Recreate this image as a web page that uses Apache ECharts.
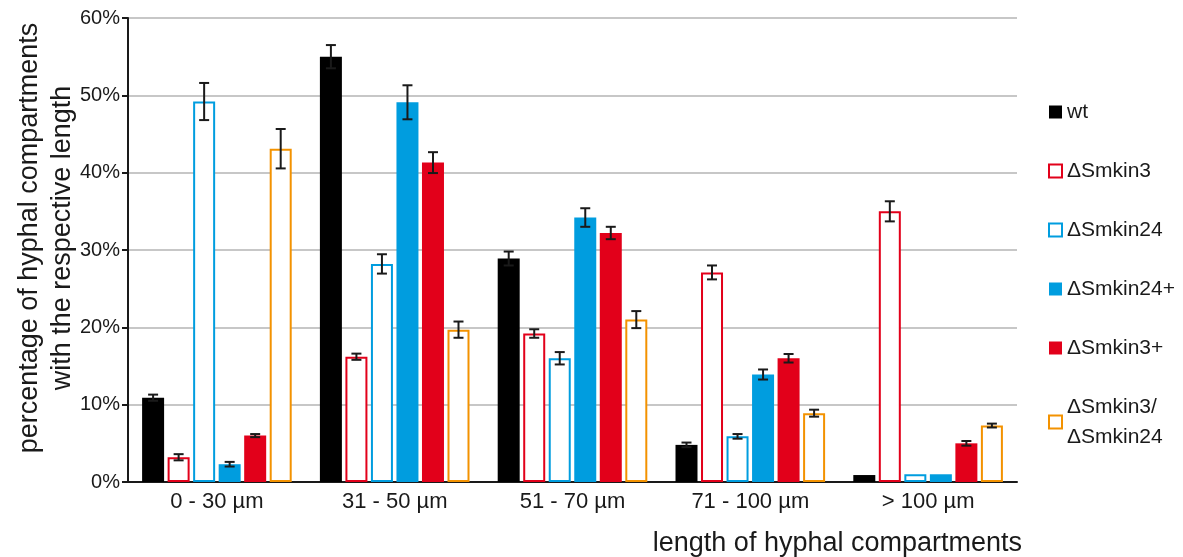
<!DOCTYPE html>
<html>
<head>
<meta charset="utf-8">
<script src="https://cdn.jsdelivr.net/npm/echarts@6/dist/echarts.min.js"></script>
<style>
  html, body { margin: 0; padding: 0; background: #fff; }
  #chart { width: 1183px; height: 557px; }
</style>
</head>
<body>
<div id="chart"></div>
<script>
var categories = ['0 - 30 µm', '31 - 50 µm', '51 - 70 µm', '71 - 100 µm', '> 100 µm'];
var names = ['wt', '\u0394Smkin3', '\u0394Smkin24', '\u0394Smkin24+', '\u0394Smkin3+', '\u0394Smkin3/\n\u0394Smkin24'];

// mean values (%)
var wt        = [10.9, 55.0, 28.9, 4.8, 0.9];
var smkin3    = [3.2, 16.2, 19.2, 27.1, 35.0];
var smkin24   = [49.2, 28.2, 16.0, 5.9, 1.0];
var smkin24p  = [2.3, 49.1, 34.2, 13.9, 1.0];
var smkin3p   = [6.0, 41.3, 32.2, 16.0, 5.0];
var combo     = [43.1, 19.7, 21.0, 8.9, 7.3];

// error bar half-widths (%)
var wtErr       = [0.4, 1.5, 0.9, 0.3, 0];
var smkin3Err   = [0.4, 0.4, 0.55, 0.9, 1.3];
var smkin24Err  = [2.4, 1.25, 0.8, 0.3, 0];
var smkin24pErr = [0.3, 2.2, 1.2, 0.65, 0];
var smkin3pErr  = [0.2, 1.35, 0.8, 0.55, 0.3];
var comboErr    = [2.55, 1.05, 1.1, 0.45, 0.25];

var values = [wt, smkin3, smkin24, smkin24p, smkin3p, combo];
var errors = [wtErr, smkin3Err, smkin24Err, smkin24pErr, smkin3pErr, comboErr];

var colors = ['#000000', '#e2001a', '#009ddf', '#009ddf', '#e2001a', '#f39200'];
var hollow = [false, true, true, false, false, true];

var barW = 22;
var gapPct = 16;
var step = barW * (1 + gapPct / 100);
var font = 'Liberation Sans, Arial, sans-serif';

var series = [];
for (var i = 0; i < values.length; i++) {
    series.push({
        name: names[i],
        type: 'bar',
        barWidth: barW,
        barGap: gapPct + '%',
        data: values[i],
        itemStyle: hollow[i]
            ? { color: '#ffffff', borderColor: colors[i], borderWidth: 2 }
            : { color: colors[i] },
        z: 2
    });
}

for (var i = 0; i < values.length; i++) {
    (function (idx) {
        var errData = [];
        for (var j = 0; j < categories.length; j++) {
            if (errors[idx][j] > 0) {
                errData.push([j, values[idx][j] - errors[idx][j], values[idx][j] + errors[idx][j]]);
            }
        }
        series.push({
            type: 'custom',
            name: names[idx],
            z: 5,
            data: errData,
            renderItem: function (params, api) {
                var xi = api.value(0);
                var lo = api.coord([xi, api.value(1)]);
                var hi = api.coord([xi, api.value(2)]);
                var x = lo[0] + (idx - 2.5) * step;
                var cap = 5;
                var st = { stroke: '#1a1a1a', lineWidth: 2 };
                return {
                    type: 'group',
                    children: [
                        { type: 'line', shape: { x1: x, y1: lo[1], x2: x, y2: hi[1] }, style: st },
                        { type: 'line', shape: { x1: x - cap, y1: lo[1], x2: x + cap, y2: lo[1] }, style: st },
                        { type: 'line', shape: { x1: x - cap, y1: hi[1], x2: x + cap, y2: hi[1] }, style: st }
                    ]
                };
            }
        });
    })(i);
}

var chart = echarts.init(document.getElementById('chart'));

var option = {
    animation: false,
    textStyle: { fontFamily: font },
    grid: { left: 128, right: 166, top: 18, bottom: 75, outerBoundsMode: 'none', containLabel: false },
    legend: {
        orient: 'vertical',
        left: 1043,
        top: 92,
        itemWidth: 13,
        itemHeight: 13,
        itemGap: 29,
        icon: 'rect',
        data: names,
        textStyle: { fontSize: 21, color: '#1a1a1a', lineHeight: 30 }
    },
    xAxis: {
        type: 'category',
        data: categories,
        axisLine: { lineStyle: { color: '#1a1a1a', width: 2 } },
        axisTick: { length: 12, lineStyle: { color: '#1a1a1a', width: 2 } },
        axisLabel: { fontSize: 22, color: '#1a1a1a', margin: 9 }
    },
    yAxis: {
        type: 'value',
        min: 0,
        max: 60,
        interval: 10,
        axisLine: { show: true, lineStyle: { color: '#1a1a1a', width: 2 } },
        axisTick: { show: true, length: 6, lineStyle: { color: '#1a1a1a', width: 2 } },
        axisLabel: { fontSize: 20, color: '#1a1a1a', formatter: '{value}%', margin: 8 },
        splitLine: { lineStyle: { color: '#b5b5b5', width: 1.5 } }
    },
    graphic: [{
        type: 'text',
        x: 46,
        y: 238,
        rotation: Math.PI / 2,
        style: {
            text: 'percentage of hyphal compartments\nwith the respective length',
            fontSize: 27,
            lineHeight: 33,
            fill: '#1a1a1a',
            fontFamily: font,
            align: 'center',
            verticalAlign: 'middle'
        }
    }, {
        type: 'text',
        x: 1022,
        y: 544,
        style: {
            text: 'length of hyphal compartments',
            fontSize: 27,
            fill: '#1a1a1a',
            fontFamily: font,
            align: 'right',
            verticalAlign: 'middle'
        }
    }],
    series: series
};

chart.setOption(option);
</script>
</body>
</html>
